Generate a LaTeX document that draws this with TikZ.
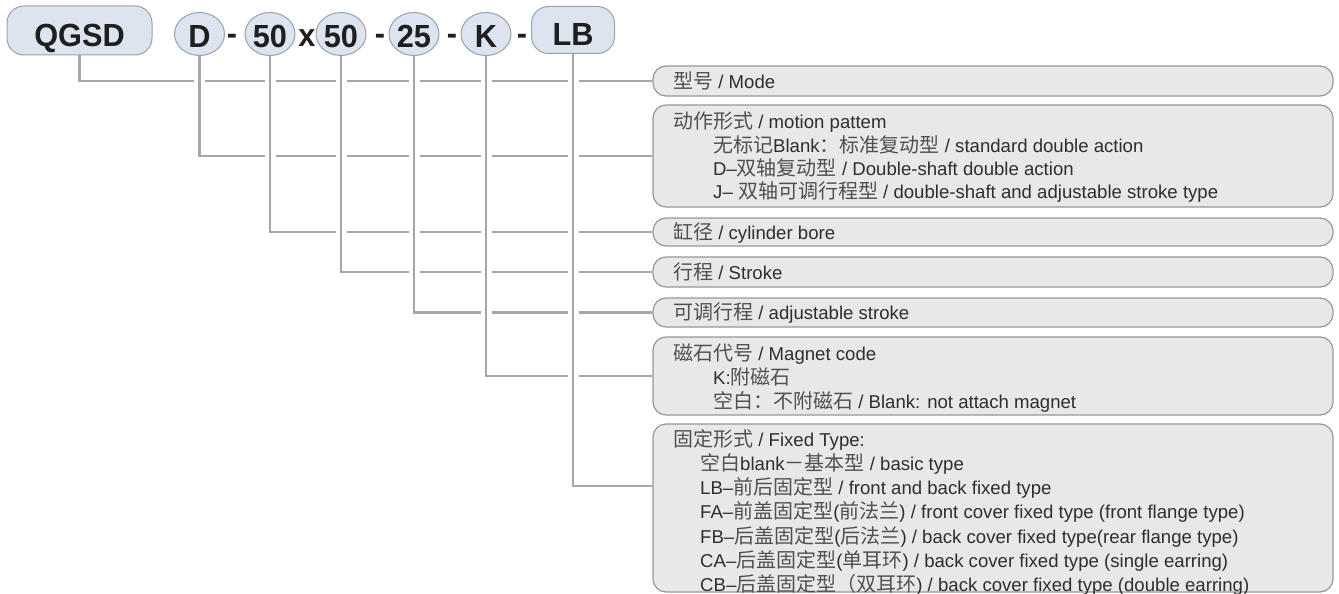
\documentclass[tikz,border=0pt]{standalone}
\usepackage{fontspec}
\usepackage{graphicx}
\setmainfont{Liberation Sans}
\newfontfamily\cjkfont{Noto Sans CJK SC}
\definecolor{cjkcol}{HTML}{505050}
\newcommand{\zhs}[1]{{\cjkfont\fontsize{20pt}{24pt}\selectfont\color{cjkcol}#1}}
\newcommand{\toptxt}[1]{\scalebox{0.96}[1]{#1}}
\usetikzlibrary{shapes.geometric,calc}
\definecolor{topfill}{HTML}{DCE4EF}
\definecolor{topdraw}{HTML}{9AA1AB}
\definecolor{boxfill}{HTML}{E8E8E9}
\definecolor{boxdraw}{HTML}{979797}
\definecolor{linecol}{HTML}{A4A7AB}
\definecolor{txtcol}{HTML}{2E2E2E}
\tikzset{
  topfont/.style={font=\fontsize{32pt}{38pt}\selectfont\bfseries, text=black!88},
  topbox/.style={topfont, draw=topdraw, fill=topfill, line width=1pt, rounded corners=17pt, inner sep=0pt, text height=32pt, text depth=0pt},
  topell/.style={topfont, ellipse, draw=topdraw, fill=topfill, line width=1pt, minimum width=50pt, minimum height=43pt, inner sep=0pt, text height=27pt, text depth=0pt},
  sep/.style={topfont, anchor=base, inner sep=0pt},
  infobox/.style={draw=boxdraw, fill=boxfill, line width=1.2pt, rounded corners=13pt, minimum width=680pt, inner sep=0pt},
  txt/.style={anchor=base west, inner sep=0pt, font=\fontsize{18.6pt}{24pt}\selectfont, text=txtcol},
  conn/.style={draw=linecol, line width=2.4pt},
  gapline/.style={draw=white, line width=11pt}
}
\begin{document}
\begin{tikzpicture}[x=1pt,y=-1pt]
\useasboundingbox (0,0) rectangle (1339,594);
% top row
\node[topbox, minimum width=145pt, minimum height=49pt] (q) at (79.5,30.5) {\toptxt{QGSD}};
\node[topell] (d) at (199.5,34) {\toptxt{D}};
\node[sep] (s1) at (232,44.5) {\toptxt{-}};
\node[topell] (f1) at (270,34) {\toptxt{50}};
\node[sep] (s2) at (307,47) {\toptxt{x}};
\node[topell] (f2) at (341,34) {\toptxt{50}};
\node[sep] (s3) at (380,44.5) {\toptxt{-}};
\node[topell] (f3) at (414,34) {\toptxt{25}};
\node[sep] (s4) at (452,44.5) {\toptxt{-}};
\node[topell] (k) at (486,34) {\toptxt{K}};
\node[sep] (s5) at (522,44.5) {\toptxt{-}};
\node[topbox, minimum width=83pt, minimum height=47pt] (lb) at (573,30) {\toptxt{LB}};
% info boxes
\node[infobox, minimum height=30pt] (m1) at (993,81) {};
\node[infobox, minimum height=102pt] (m2) at (993,156) {};
\node[infobox, minimum height=28pt] (m3) at (993,232) {};
\node[infobox, minimum height=30pt] (m4) at (993,272) {};
\node[infobox, minimum height=29pt] (m5) at (993,312.5) {};
\node[infobox, minimum height=78pt] (m6) at (993,376) {};
\node[infobox, minimum height=168pt] (m7) at (993,508) {};
\coordinate (c7) at (653,486);
% connectors
\draw[conn] (q.south) |- (m1.west);
\draw[conn] (d.south) |- (m2.west);
\draw[conn] (f1.south) |- (m3.west);
\draw[conn] (f2.south) |- (m4.west);
\draw[conn] (f3.south) |- (m5.west);
\draw[conn] (k.south) |- (m6.west);
\draw[conn] (lb.south) |- (c7);
% gaps where verticals cross horizontals
\draw[gapline] (d.south) -- ($(d.south |- m2.west)+(0,-10)$);
\draw[gapline] (f1.south) -- ($(f1.south |- m3.west)+(0,-10)$);
\draw[gapline] (f2.south) -- ($(f2.south |- m4.west)+(0,-10)$);
\draw[gapline] (f3.south) -- ($(f3.south |- m5.west)+(0,-10)$);
\draw[gapline] (k.south) -- ($(k.south |- m6.west)+(0,-10)$);
\draw[gapline] (lb.south) -- ($(lb.south |- c7)+(0,-10)$);
\draw[conn] (d.south) -- (d.south |- m2.west);
\draw[conn] (f1.south) -- (f1.south |- m3.west);
\draw[conn] (f2.south) -- (f2.south |- m4.west);
\draw[conn] (f3.south) -- (f3.south |- m5.west);
\draw[conn] (k.south) -- (k.south |- m6.west);
\draw[conn] (lb.south) -- (lb.south |- c7);
% texts
\node[txt] (t1) at (673,88.5) {\zhs{型号} / Mode};
\node[txt] (t2a) at (673,128.5) {\zhs{动作形式} / motion pattem};
\node[txt] (t2b) at (713,152) {\zhs{无标记}Blank\zhs{：标准复动型} / standard double action};
\node[txt] (t2c) at (713,175) {D–\zhs{双轴复动型} / Double-shaft double action};
\node[txt] (t2d) at (713,198.5) {J– \zhs{双轴可调行程型} / double-shaft and adjustable stroke type};
\node[txt] (t3) at (673,239.5) {\zhs{缸径} / cylinder bore};
\node[txt] (t4) at (673,279.5) {\zhs{行程} / Stroke};
\node[txt] (t5) at (673,319.5) {\zhs{可调行程} / adjustable stroke};
\node[txt] (t6a) at (673,360.5) {\zhs{磁石代号} / Magnet code};
\node[txt] (t6b) at (713,384.5) {K:\zhs{附磁石}};
\node[txt] (t6c) at (713,408.5) {\zhs{空白：不附磁石} / Blank: not attach magnet};
\node[txt] (t7a) at (673,446.5) {\zhs{固定形式} / Fixed Type:};
\node[txt] (t7b) at (700,470.5) {\zhs{空白}blank\zhs{－基本型} / basic type};
\node[txt] (t7c) at (700,494.5) {LB–\zhs{前后固定型} / front and back fixed type};
\node[txt] (t7d) at (700,518.5) {FA–\zhs{前盖固定型}(\zhs{前法兰}) / front cover fixed type (front flange type)};
\node[txt] (t7e) at (700,543) {FB–\zhs{后盖固定型}(\zhs{后法兰}) / back cover fixed type(rear flange type)};
\node[txt] (t7f) at (700,567) {CA–\zhs{后盖固定型}(\zhs{单耳环}) / back cover fixed type (single earring)};
\node[txt] (t7g) at (700,591) {CB–\zhs{后盖固定型（双耳环}) / back cover fixed type (double earring)};
\end{tikzpicture}
\end{document}
